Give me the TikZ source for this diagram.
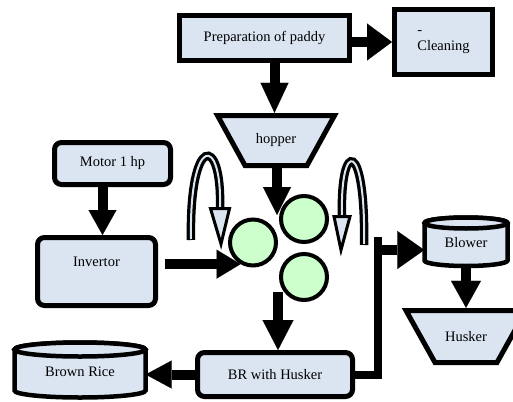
\documentclass[tikz,border=0pt]{standalone}
\usepackage{fontspec}
\setmainfont{Liberation Serif}
\usetikzlibrary{arrows.meta,calc}
\definecolor{boxfill}{RGB}{219,229,241}
\definecolor{rollfill}{RGB}{204,255,204}
\begin{document}
\begin{tikzpicture}[x=1pt,y=1pt,
  every node/.style={font=\fontsize{14.5}{16}\selectfont, inner sep=0pt},
  sqbox/.style={draw=black, line width=5pt, fill=boxfill, line join=miter},
  rbox/.style={sqbox, rounded corners=7pt},
  cyl/.style={draw=black, line width=4.5pt, fill=boxfill},
  roll/.style={circle, draw=black, line width=4pt, fill=rollfill, minimum size=46pt},
  blk/.style 2 args={draw=black, line width=10pt, -{Triangle[width=#1pt,length=#2pt,line width=0.1pt]}},
  hollowout/.style={draw=black, line width=8.5pt},
  hollowin/.style={draw=boxfill, line width=2pt},
  hollowhead/.style={draw=black, line width=3pt, fill=boxfill, line join=miter}]
\useasboundingbox (0,0) rectangle (513,-401);
\clip (0,0) rectangle (513,-401);
\fill[white] (0,0) rectangle (513,-401);

% boxes
\node[sqbox, minimum width=170pt, minimum height=45pt] (prep) at (264.5,-38) {Preparation of paddy};
\node[sqbox, minimum width=98pt, minimum height=65pt, align=left] (clean) at (443.5,-42) {-\\Cleaning};
\node[rbox, minimum width=116pt, minimum height=42pt] (motor) at (112.5,-163.5) {Motor 1 hp};
\node[rbox, minimum width=118pt, minimum height=68pt] (inv) at (96.5,-271.5) {};
\node (invtext) at ([yshift=9.5pt]inv.center) {Invertor};
\node[rbox, minimum width=155pt, minimum height=44pt] (br) at (275,-374.5) {BR with Husker};

% hopper
\draw[sqbox] (217.5,-115.5) -- (334.5,-115.5) -- (307,-165.5) -- (245,-165.5) -- cycle;
\node[minimum width=117pt, minimum height=55pt] (hopper) at (276,-140.5) {hopper};

% blower cylinder
\draw[cyl] (424.5,-223) -- (424.5,-260.5) arc[start angle=180,end angle=360,x radius=41.5,y radius=5.5]
  -- (507.5,-223) arc[start angle=0,end angle=180,x radius=41.5,y radius=5.5] -- cycle;
\draw[cyl] (466,-223) ellipse[x radius=41.5, y radius=5.5];
\node[minimum width=83pt, minimum height=50pt] (blower) at (466,-243) {Blower};

% husker
\draw[sqbox] (406,-310.5) -- (526,-310.5) -- (497,-362.5) -- (435,-362.5) -- cycle;
\node[minimum width=90pt, minimum height=57pt] (husker) at (466,-336.5) {Husker};

% brown rice cylinder
\draw[cyl] (14.5,-349.5) -- (14.5,-390.5) arc[start angle=180,end angle=360,x radius=65.5,y radius=7]
  -- (145.5,-349.5) arc[start angle=0,end angle=180,x radius=65.5,y radius=7] -- cycle;
\draw[cyl] (80,-349.5) ellipse[x radius=65.5, y radius=7];
\node[minimum width=131pt, minimum height=40pt] (brown) at (80,-372) {Brown Rice};

% arrow under the rollers
\node[circle, minimum size=46pt] (c3pos) at (304,-277) {};
\draw[blk={31}{30}] ([xshift=-26pt,yshift=8pt]c3pos.south) -- ([xshift=3pt]br.north);

% rollers
\node[roll] (c1) at (253,-242.5) {};
\node[roll] (c2) at (304,-219) {};
\node[roll] (c3) at (304,-277) {};

% connectors
\draw[blk={37}{25}] (prep.east |- clean.west) -- (clean.west);
\draw[blk={28}{30}] ([xshift=10pt]prep.south) -- ([xshift=10pt]prep.south |- hopper.north);
\coordinate (nip) at (277,-215);
\draw[blk={28}{28}] (hopper.south -| nip) -- (nip);
\draw[blk={28}{25}] ([xshift=-10pt]motor.south) -- ([xshift=-10pt]motor.south |- inv.north);
\draw[blk={29}{24}] ([xshift=7pt]inv.east |- c1.240) -- (c1.240);
\draw[blk={28}{26}] (br.west) -- (br.west -| brown.east);
\coordinate (jt) at (378,-237);
\draw[draw=black, line width=8pt, line join=miter] (br.east) -| (jt);
\draw[blk={38}{27}] ([yshift=-13pt]jt) -- ([yshift=-7pt]blower.west);
\draw[blk={30}{27}] (blower.south) -- (husker.north);

% hollow curved arrows
\draw[hollowout] (191,-240) .. controls (189,-134) and (222,-134) .. (220,-207);
\draw[hollowin] (191,-239) .. controls (189,-134) and (222,-134) .. (220,-207);
\draw[hollowhead] (210.5,-208.5) -- (229.5,-208.5) -- (221,-244) -- cycle;

\draw[hollowout] (364,-245) .. controls (366,-139) and (340,-139) .. (342,-215);
\draw[hollowin] (364,-244) .. controls (366,-139) and (340,-139) .. (342,-215);
\draw[hollowhead] (334,-216.5) -- (350,-216.5) -- (341,-250) -- cycle;
\end{tikzpicture}
\end{document}
